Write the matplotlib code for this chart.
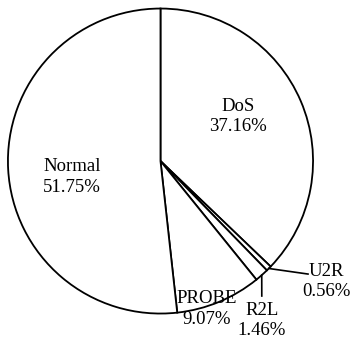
import numpy as np
import matplotlib.pyplot as plt

plt.rcParams['font.family'] = ['Liberation Serif', 'DejaVu Serif']

labels = ['DoS', 'U2R', 'R2L', 'PROBE', 'Normal']
shares = [37.16, 0.56, 1.46, 9.07, 51.75]

# where each label sits (data units, radius = 1)
text_pos = {
    'DoS': (0.51, 0.29),
    'U2R': (1.09, -0.79),
    'R2L': (0.665, -1.045),
    'PROBE': (0.305, -0.97),
    'Normal': (-0.58, -0.105),
}
# leader lines: end point of the line from the wedge edge
leaders = {
    'U2R': (0.967, -0.741),
    'R2L': (0.664, -0.885),
}

fig = plt.figure(figsize=(3.55, 3.41), dpi=100)
ax = fig.add_axes([0, 0, 1, 1])

wedges, _ = ax.pie(shares, startangle=90, counterclock=False,
                   colors=['white'] * len(shares),
                   wedgeprops=dict(edgecolor='black', linewidth=1.3))

for w, lab, val in zip(wedges, labels, shares):
    x, y = text_pos[lab]
    ax.text(x, y, f'{lab}\n{val:.2f}%', ha='center', va='center',
            fontsize=13.5, linespacing=1.25)
    if lab in leaders:
        mid = np.deg2rad((w.theta1 + w.theta2) / 2)
        sx, sy = np.cos(mid), np.sin(mid)
        ex, ey = leaders[lab]
        ax.plot([sx, ex], [sy, ey], color='black', lw=1.2)

ax.set_xlim(-1.052, 1.275)
ax.set_ylim(-1.180, 1.056)
ax.set_aspect('auto')
ax.axis('off')

fig.savefig('out.png', dpi=100)
